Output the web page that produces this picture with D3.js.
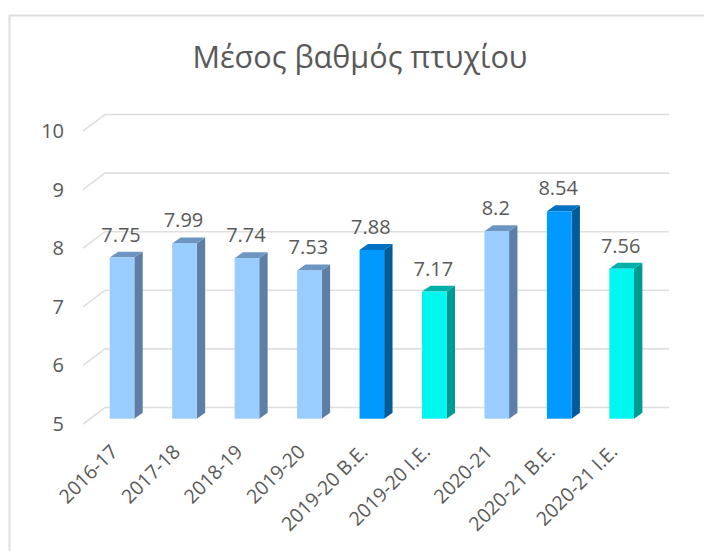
<!DOCTYPE html>
<html>
<head>
<meta charset="utf-8">
<script src="https://cdnjs.cloudflare.com/ajax/libs/d3/7.8.5/d3.min.js"></script>
<style>
    html, body { margin: 0; padding: 0; background: #fff; }
    svg { display: block; }
    text { font-family: "Open Sans", "Noto Sans", sans-serif; fill: #595959; }
    .axis path, .axis line { display: none; }
</style>
</head>
<body>
<svg class="chart" width="704" height="551"></svg>
<script>
var titleText = "Μέσος βαθμός πτυχίου";
var categories = ["2016-17", "2017-18", "2018-19", "2019-20", "2019-20 Β.Ε.", "2019-20 Ι.Ε.", "2020-21", "2020-21 Β.Ε.", "2020-21 Ι.Ε."];
var values = [7.75, 7.99, 7.74, 7.53, 7.88, 7.17, 8.2, 8.54, 7.56];
var yTicks = [5, 6, 7, 8, 9, 10];

// front, side, top of each bar
var palette = {
    all: ["#99ccff", "#5f7ea6", "#6c95c2"],
    be: ["#0099ff", "#005c99", "#0070c0"],
    ie: ["#00f7f0", "#009a94", "#00afa8"]
};

function kindOf(name) {
    if (name.indexOf("Β.Ε.") > -1) return "be";
    if (name.indexOf("Ι.Ε.") > -1) return "ie";
    return "all";
}

function drawGradeChart() {
    var chart = d3.select(".chart");

    // y runs on the back wall, the floor comes forward from there
    var y = d3.scaleLinear().domain([5, 10]).range([407.5, 114.5]);
    var x = d3.scaleBand()
        .domain(categories)
        .range([90.8, 652.9])
        .paddingInner(0.606)
        .paddingOuter(0.303);

    var wall = {left: 105, right: 669, dx: -22, dy: 16.5};
    var barFront = 11.2;    // front face sits this far below the wall
    var barSide = {dx: 8.4, dy: -5.9};

    // outer frame
    chart.append("path")
        .attr("d", "M9.5,551V15.5H704")
        .attr("fill", "none")
        .attr("stroke", "#dedede")
        .attr("stroke-width", 2);

    chart.append("text")
        .attr("x", 360)
        .attr("y", 68)
        .attr("text-anchor", "middle")
        .style("font-size", "30.6px")
        .text(titleText);

    // grid
    chart.selectAll(".grid")
            .data(yTicks)
        .enter().append("path")
            .attr("class", "grid")
            .attr("fill", "none")
            .attr("stroke", "#dfdfdf")
            .attr("stroke-width", 1.6)
            .attr("d", function(d) {
                return "M" + (wall.left + wall.dx) + "," + (y(d) + wall.dy)
                    + "L" + wall.left + "," + y(d)
                    + "H" + wall.right;
            });

    // y axis labels hang on the front end of the grid
    var yAxis = d3.axisLeft(y).tickValues(yTicks).tickFormat(d3.format("d")).tickSize(0).tickPadding(19);
    chart.append("g")
        .attr("class", "axis y")
        .attr("transform", "translate(" + (wall.left + wall.dx) + "," + wall.dy + ")")
        .call(yAxis)
        .selectAll("text")
            .style("font-size", "20px");

    var xAxis = d3.axisBottom(x).tickSize(0).tickPadding(0);
    chart.append("g")
        .attr("class", "axis x")
        .attr("transform", "translate(0,432)")
        .call(xAxis)
        .selectAll("text")
            .attr("text-anchor", "end")
            .attr("dx", 0)
            .attr("dy", 0)
            .attr("transform", "translate(-3,21) rotate(-45)")
            .style("font-size", "19.5px");

    var bars = chart.selectAll(".bar")
            .data(categories)
        .enter().append("g")
            .attr("class", "bar");

    function top(d, i) { return y(values[i]) + barFront; }
    var base = y(5) + barFront;

    bars.append("path")
        .attr("fill", function(d) { return palette[kindOf(d)][1]; })
        .attr("d", function(d, i) {
            var r = x(d) + x.bandwidth();
            return "M" + r + "," + top(d, i)
                + "l" + barSide.dx + "," + barSide.dy
                + "V" + (base + barSide.dy)
                + "L" + r + "," + base + "Z";
        });

    bars.append("path")
        .attr("fill", function(d) { return palette[kindOf(d)][2]; })
        .attr("d", function(d, i) {
            return "M" + x(d) + "," + top(d, i)
                + "l" + barSide.dx + "," + barSide.dy
                + "h" + x.bandwidth()
                + "l" + (-barSide.dx) + "," + (-barSide.dy) + "Z";
        });

    bars.append("rect")
        .attr("x", function(d) { return x(d); })
        .attr("y", top)
        .attr("width", x.bandwidth())
        .attr("height", function(d, i) { return base - top(d, i); })
        .attr("fill", function(d) { return palette[kindOf(d)][0]; });

    bars.append("text")
        .attr("x", function(d) { return x(d) + x.bandwidth() / 2 - 1; })
        .attr("y", function(d, i) { return top(d, i) - 16; })
        .attr("text-anchor", "middle")
        .style("font-size", "20px")
        .text(function(d, i) { return values[i]; });
}

drawGradeChart();
</script>
</body>
</html>
